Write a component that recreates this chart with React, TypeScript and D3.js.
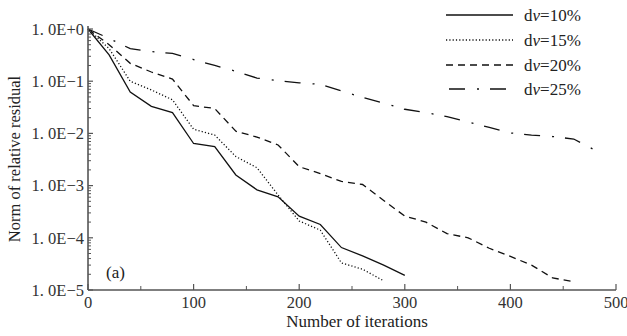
import React, { useRef, useEffect, useCallback } from 'react';
import * as d3 from 'd3';

// iterations sampled every 20 steps
const iters10 = [0, 20, 40, 60, 80, 100, 120, 140, 160, 180, 200, 220, 240, 260, 280, 300];
const resid10 = [1, 0.32, 0.062, 0.033, 0.025, 0.0064, 0.0056, 0.0016, 0.00083, 0.00061, 0.00026, 0.00018, 0.000065, 0.000045, 0.00003, 0.000019];

const iters15 = [0, 20, 40, 60, 80, 100, 120, 140, 160, 180, 200, 220, 240, 260, 280];
const resid15 = [1, 0.42, 0.1, 0.068, 0.044, 0.012, 0.0093, 0.0036, 0.0022, 0.00066, 0.00021, 0.00014, 0.000033, 0.000025, 0.000015];

const iters20 = [0, 20, 40, 60, 80, 100, 120, 140, 160, 180, 200, 220, 240, 260, 280, 300, 320, 340, 360, 380, 400, 420, 440, 460];
const resid20 = [1, 0.5, 0.22, 0.15, 0.11, 0.034, 0.03, 0.011, 0.0085, 0.006, 0.0023, 0.0017, 0.0012, 0.00105, 0.00052, 0.00026, 0.0002, 0.00012, 0.0001, 0.000063, 0.000044, 0.00003, 0.000017, 0.0000145];

const iters25 = [0, 20, 40, 60, 80, 100, 120, 140, 160, 180, 200, 220, 240, 260, 280, 300, 320, 340, 360, 380, 400, 420, 440, 460, 480];
const resid25 = [1, 0.66, 0.42, 0.37, 0.34, 0.26, 0.2, 0.155, 0.115, 0.102, 0.093, 0.087, 0.065, 0.049, 0.038, 0.029, 0.025, 0.021, 0.0166, 0.013, 0.0102, 0.0093, 0.0087, 0.0078, 0.0048];

const seriesLabels = ['10%', '15%', '20%', '25%'];
const yTickLabels = ['1. 0E+0', '1. 0E\u22121', '1. 0E\u22122', '1. 0E\u22123', '1. 0E\u22124', '1. 0E\u22125'];
const xTicks = [0, 100, 200, 300, 400, 500];

const dashes = [null, '1.2,2.1', '7,5', '16,12,2,11'];
const FONT = '"Liberation Serif", "Times New Roman", serif';

type Pt = { x: number; y: number };

const App = () => {
  const svgRef = useRef<SVGSVGElement | null>(null);
  const width = 627, height = 336;
  const margin = { left: 88, right: 11, top: 29, bottom: 46 };

  const draw = useCallback((node: SVGSVGElement) => {
    const svg = d3.select(node);
    svg.selectAll('*').remove();

    const x = d3.scaleLinear().domain([0, 500]).range([margin.left, width - margin.right]);
    const y = d3.scaleLog().domain([1e-5, 1]).range([height - margin.bottom, margin.top]);

    const series = [
      { xs: iters10, ys: resid10 },
      { xs: iters15, ys: resid15 },
      { xs: iters20, ys: resid20 },
      { xs: iters25, ys: resid25 },
    ];

    const line = d3.line<Pt>().x((d) => x(d.x)).y((d) => y(d.y));

    series.forEach((s, i) => {
      const pts: Pt[] = s.xs.map((v, k) => ({ x: v, y: s.ys[k] }));
      svg.append('path')
        .datum(pts)
        .attr('d', line)
        .attr('fill', 'none')
        .attr('stroke', '#111')
        .attr('stroke-width', 1.3)
        .attr('stroke-dasharray', dashes[i] as any);
    });

    // axes
    const axisColor = '#555';
    const y0 = height - margin.bottom;
    svg.append('line')
      .attr('x1', margin.left).attr('x2', width - margin.right)
      .attr('y1', y0).attr('y2', y0)
      .attr('stroke', axisColor).attr('stroke-width', 1.6);
    svg.append('line')
      .attr('x1', margin.left).attr('x2', margin.left)
      .attr('y1', margin.top - 3).attr('y2', y0)
      .attr('stroke', axisColor).attr('stroke-width', 1.6);

    // y ticks (inside)
    const decades = [0, -1, -2, -3, -4, -5];
    decades.forEach((e, i) => {
      const v = Math.pow(10, e);
      svg.append('line')
        .attr('x1', margin.left).attr('x2', margin.left + 5)
        .attr('y1', y(v)).attr('y2', y(v))
        .attr('stroke', axisColor).attr('stroke-width', 1.2);
      if (e < 0) {
        d3.range(2, 10).forEach((m) => {
          const mv = m * v;
          svg.append('line')
            .attr('x1', margin.left).attr('x2', margin.left + 3)
            .attr('y1', y(mv)).attr('y2', y(mv))
            .attr('stroke', axisColor).attr('stroke-width', 1);
        });
      }
      svg.append('text')
        .attr('x', margin.left - 4)
        .attr('y', y(v))
        .attr('dy', '0.35em')
        .attr('text-anchor', 'end')
        .attr('font-family', FONT)
        .attr('font-size', 16.5)
        .attr('fill', '#333')
        .text(yTickLabels[i]);
    });

    // x ticks (inside)
    xTicks.forEach((t) => {
      svg.append('line')
        .attr('x1', x(t)).attr('x2', x(t))
        .attr('y1', y0).attr('y2', y0 - 6)
        .attr('stroke', axisColor).attr('stroke-width', 1.2);
      svg.append('text')
        .attr('x', x(t))
        .attr('y', y0 + 18)
        .attr('text-anchor', 'middle')
        .attr('font-family', FONT)
        .attr('font-size', 16.5)
        .attr('fill', '#333')
        .text(t);
    });
    [50, 150, 250, 350, 450].forEach((t) => {
      svg.append('line')
        .attr('x1', x(t)).attr('x2', x(t))
        .attr('y1', y0).attr('y2', y0 - 4)
        .attr('stroke', axisColor).attr('stroke-width', 1);
    });

    // titles
    svg.append('text')
      .attr('x', 357)
      .attr('y', 327)
      .attr('text-anchor', 'middle')
      .attr('font-family', FONT)
      .attr('font-size', 17)
      .attr('fill', '#222')
      .text('Number of iterations');
    svg.append('text')
      .attr('transform', `translate(20, 159)rotate(-90)`)
      .attr('text-anchor', 'middle')
      .attr('font-family', FONT)
      .attr('font-size', 16.5)
      .attr('fill', '#222')
      .text('Norm of relative residual');

    svg.append('text')
      .attr('x', 106)
      .attr('y', 278)
      .attr('font-family', FONT)
      .attr('font-size', 17)
      .attr('fill', '#222')
      .text('(a)');

    // legend
    const legendY = [15, 40, 65, 89];
    seriesLabels.forEach((lab, i) => {
      svg.append('line')
        .attr('x1', i === 3 ? 449 : 446).attr('x2', 513)
        .attr('y1', legendY[i]).attr('y2', legendY[i])
        .attr('stroke', '#111')
        .attr('stroke-width', 1.3)
        .attr('stroke-dasharray', dashes[i] as any);
      const t = svg.append('text')
        .attr('x', 524)
        .attr('y', legendY[i])
        .attr('dy', '0.35em')
        .attr('font-family', FONT)
        .attr('font-size', 17)
        .attr('fill', '#222');
      t.append('tspan').text('d');
      t.append('tspan').attr('font-style', 'italic').text('v');
      t.append('tspan').text('=' + lab);
    });
  }, []);

  useEffect(() => {
    if (svgRef.current) draw(svgRef.current);
  }, [draw]);

  return (
    <div style={{ position: 'absolute', left: 0, top: 0 }}>
      <svg ref={svgRef} width={width} height={height} style={{ display: 'block', background: '#fff' }} />
    </div>
  );
};

export default App;
